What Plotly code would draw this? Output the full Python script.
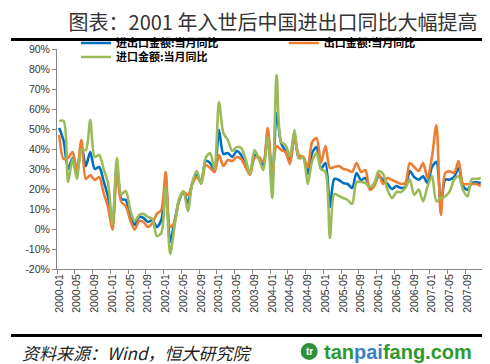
import plotly.graph_objects as go

# ---- data ----
years = list(range(2000, 2008))
months = [f"{y}-{m:02d}" for y in years for m in range(1, 13)]

total_yoy = [50.5, 44, 30, 35.5, 27.5, 42, 31.5, 38.5, 30, 31, 24, 16,
             1.5, 31, 15, 14.5, 6.5, 2, 6, 5.5, 3.5, 4.5, 1, 4.5,
             23, -6.5, 4, 14, 18.5, 13, 23, 27, 23.5, 34, 33, 29.5,
             49.5, 37.5, 38, 36, 39, 37, 31.5, 28, 37, 35.5, 32, 48.5,
             23, 58, 43, 39, 34, 47, 35.5, 36, 27.5, 38, 41, 30,
             33, 11, 25, 24.5, 23, 22.5, 20.5, 28, 24.5, 25.5, 20.5, 22,
             26.5, 24.5, 22.5, 20, 21.5, 20.5, 21, 29, 26, 24.7, 26.3, 23,
             31, 33.5, 11.5, 24.7, 24.7, 26, 30.5, 21.5, 19.7, 23, 23.3, 23]

export_yoy = [47, 35, 35.5, 38.5, 29.5, 44.5, 25, 27, 24.5, 26, 18, 11,
              -0.5, 28.5, 13.5, 11.5, 4.5, -0.3, 4, 3.5, 1, 3, 7.5, 9.5,
              28.5, 1, 3.5, 14.5, 18.5, 17, 22.5, 26, 23, 32, 30.5, 28.5,
              37, 31.5, 34.5, 34, 36, 35, 31, 27, 35.5, 36, 33.5, 50.5,
              28, 41.5, 39.5, 38.5, 32.5, 46, 37, 36, 31, 43.5, 45.5, 33,
              41.5, 30.5, 31, 31.5, 30, 29.5, 28.5, 33, 28.5, 29.5, 19.5, 21.5,
              27.5, 22.5, 25.5, 24.5, 23.5, 22.5, 23, 33, 31, 29, 33, 25.5,
              36, 52, 7, 28, 28.8, 28, 34, 22.5, 22.5, 22.5, 22.5, 21.5]

import_yoy = [54, 54, 23.5, 35, 25, 39.5, 39.5, 54.5, 36, 37, 30, 23,
              2.5, 35.5, 17.5, 19, 9.5, 4, 7, 7.5, 6, 5, -3.5, -2,
              21, -12.5, 1.5, 15, 19, 9, 23.5, 29, 22.5, 35.5, 38, 30,
              63.5, 48, 44.5, 39, 41, 40.5, 35, 27.5, 39.5, 35, 29.5, 46,
              15.5, 77, 43.5, 42, 36.5, 49.5, 35.5, 35.5, 22.5, 34, 38, 30,
              28.5, -4.5, 17.5, 16.5, 15.5, 14.5, 12.5, 23.5, 23.5, 23, 21, 23,
              29, 27.5, 19.5, 15.5, 18.5, 18.5, 20.5, 24.7, 17, 19.7, 13.8, 21.3,
              26.5, 13.8, 15.5, 16.3, 18.8, 24.7, 26.3, 19.5, 16.3, 25, 25, 25.5]

series_names = ["进出口金额:当月同比", "出口金额:当月同比", "进口金额:当月同比"]
series_colors = ["#0070C0", "#ED7D31", "#9BBB59"]
y_tick_vals = list(range(-20, 91, 10))
y_tick_text = [f"{v}%" for v in y_tick_vals]

title_text = "图表：2001 年入世后中国进出口同比大幅提高"
source_text = "资料来源：Wind，恒大研究院"

# ---- figure ----
fig = go.Figure()
legends = ["legend", "legend3", "legend2"]
for name, vals, col, lg in zip(series_names, [total_yoy, export_yoy, import_yoy], series_colors, legends):
    fig.add_trace(go.Scatter(
        x=months, y=vals, name=name, mode="lines",
        line=dict(color=col, width=2.6, shape="spline", smoothing=0.8),
        legend=lg,
    ))

CJK = "Noto Sans CJK SC"
axis_font = dict(family="Liberation Sans, Arial", size=10.5, color="#333333")
legend_font = dict(family=CJK, size=11, color="black", weight="bold")

# plot area: x 49..475.5, y 41..261 (pixels)
L, R, T, B = 49, 490 - 475.5, 41, 364 - 261
W, H = 490 - L - R, 364 - T - B

def px2paper_x(px):
    return (px - L) / W

def py2paper_y(py):
    return (364 - B - py) / H

def legend_box(px, py):
    return dict(orientation="h", x=px2paper_x(px), xanchor="left",
                y=py2paper_y(py), yanchor="middle",
                font=legend_font, bgcolor="rgba(0,0,0,0)", itemwidth=30)

fig.update_layout(
    width=490, height=364,
    margin=dict(l=L, r=R, t=T, b=B, pad=0, autoexpand=False),
    paper_bgcolor="white", plot_bgcolor="white",
    title=dict(text=title_text, x=265 / 490, xanchor="center", xref="container",
               y=1 - 15 / 364, yanchor="middle", yref="container",
               font=dict(family=CJK, size=20, color="#333333")),
    xaxis=dict(
        type="category", range=[-0.5, len(months) - 0.5],
        tickmode="linear", tick0=0, dtick=4, tickson="boundaries",
        tickangle=-90, ticks="outside", ticklen=4, tickcolor="#868686",
        showline=True, linecolor="#868686", linewidth=1,
        showgrid=False, zeroline=False, tickfont=axis_font,
    ),
    yaxis=dict(
        range=[-20, 90], tickvals=y_tick_vals, ticktext=y_tick_text,
        ticks="outside", ticklen=4, tickcolor="#868686",
        showline=True, linecolor="#868686", linewidth=1,
        showgrid=False, zeroline=False, tickfont=axis_font,
    ),
    legend=legend_box(68, 35),
    legend3=legend_box(276, 35),
    legend2=legend_box(68, 49),
    showlegend=True,
)

# decorative bars
fig.add_shape(type="rect", xref="paper", yref="paper",
              x0=px2paper_x(3), x1=px2paper_x(485), y0=py2paper_y(33), y1=py2paper_y(30),
              fillcolor="black", line=dict(width=0))
fig.add_shape(type="rect", xref="paper", yref="paper",
              x0=px2paper_x(3), x1=px2paper_x(485), y0=py2paper_y(329), y1=py2paper_y(326),
              fillcolor="black", line=dict(width=0))

# source text
fig.add_annotation(text=source_text, xref="paper", yref="paper",
                   x=px2paper_x(12), y=py2paper_y(344), xanchor="left", yanchor="middle",
                   showarrow=False,
                   font=dict(family=CJK, size=17, color="#222222", style="italic"))

# watermark logo
fig.add_shape(type="circle", xref="paper", yref="paper",
              x0=px2paper_x(293), x1=px2paper_x(310), y0=py2paper_y(352), y1=py2paper_y(335),
              fillcolor="#2F8F3A", line=dict(width=0))
fig.add_annotation(text="<b>tr</b>", xref="paper", yref="paper",
                   x=px2paper_x(301.5), y=py2paper_y(343.5), xanchor="center", yanchor="middle",
                   showarrow=False, font=dict(family="Liberation Sans", size=10, color="white"))
fig.add_annotation(
    text="<b><span style='color:#2E9A2E'>tan</span><span style='color:#3C7FC4'>pai</span>"
         "<span style='color:#2E9A2E'>fang.com</span></b>",
    xref="paper", yref="paper", x=px2paper_x(314), y=py2paper_y(344),
    xanchor="left", yanchor="middle", showarrow=False,
    font=dict(family="Liberation Sans, Arial", size=20))

fig.write_html("out.html")
